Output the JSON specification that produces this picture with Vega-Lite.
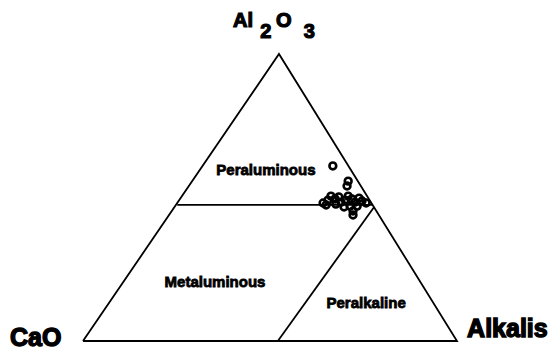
{
  "$schema": "https://vega.github.io/schema/vega-lite/v6.json",
  "width": 552,
  "height": 354,
  "padding": 0,
  "autosize": "none",
  "background": "white",
  "config": {"view": {"stroke": null}},
  "datasets": {
    "boundaries": [
      {"seg": "outline", "ord": 0, "x": 0, "y": 0},
      {"seg": "outline", "ord": 1, "x": 0.524, "y": 1},
      {"seg": "outline", "ord": 2, "x": 1, "y": 0},
      {"seg": "outline", "ord": 3, "x": 0, "y": 0},
      {"seg": "aluminous", "ord": 0, "x": 0.252, "y": 0.474},
      {"seg": "aluminous", "ord": 1, "x": 0.774, "y": 0.474},
      {"seg": "alkaline", "ord": 0, "x": 0.521, "y": 0},
      {"seg": "alkaline", "ord": 1, "x": 0.778, "y": 0.466}
    ],
    "samples": [
      {"x": 0.668, "y": 0.610},
      {"x": 0.709, "y": 0.557},
      {"x": 0.706, "y": 0.540},
      {"x": 0.642, "y": 0.481},
      {"x": 0.655, "y": 0.491},
      {"x": 0.663, "y": 0.505},
      {"x": 0.674, "y": 0.495},
      {"x": 0.684, "y": 0.502},
      {"x": 0.676, "y": 0.477},
      {"x": 0.690, "y": 0.484},
      {"x": 0.701, "y": 0.491},
      {"x": 0.709, "y": 0.505},
      {"x": 0.719, "y": 0.495},
      {"x": 0.727, "y": 0.484},
      {"x": 0.738, "y": 0.498},
      {"x": 0.746, "y": 0.488},
      {"x": 0.733, "y": 0.470},
      {"x": 0.714, "y": 0.470},
      {"x": 0.698, "y": 0.467},
      {"x": 0.722, "y": 0.453},
      {"x": 0.722, "y": 0.439},
      {"x": 0.650, "y": 0.474},
      {"x": 0.757, "y": 0.481}
    ],
    "apexLabel": [
      {"t": "Al", "x": 0.428, "y": 1.094},
      {"t": "2", "x": 0.489, "y": 1.056},
      {"t": "O", "x": 0.537, "y": 1.094},
      {"t": "3", "x": 0.605, "y": 1.056}
    ],
    "baseLabels": [
      {"t": "CaO", "x": -0.195, "y": -0.017},
      {"t": "Alkalis", "x": 1.027, "y": 0.014}
    ],
    "fields": [
      {"t": "Peraluminous", "x": 0.489, "y": 0.578},
      {"t": "Metaluminous", "x": 0.353, "y": 0.188},
      {"t": "Peralkaline", "x": 0.757, "y": 0.115}
    ]
  },
  "encoding": {
    "x": {"field": "x", "type": "quantitative", "axis": null,
          "scale": {"domain": [-0.2219, 1.254], "nice": false, "zero": false}},
    "y": {"field": "y", "type": "quantitative", "axis": null,
          "scale": {"domain": [-0.0453, 1.1882], "nice": false, "zero": false}}
  },
  "layer": [
    {
      "data": {"name": "boundaries"},
      "mark": {"type": "line", "color": "black", "strokeWidth": 1.8, "strokeJoin": "miter"},
      "encoding": {
        "detail": {"field": "seg", "type": "nominal"},
        "order": {"field": "ord", "type": "quantitative"}
      }
    },
    {
      "data": {"name": "samples"},
      "mark": {"type": "point", "shape": "circle", "filled": false, "stroke": "black", "strokeWidth": 2.6, "size": 46, "opacity": 1}
    },
    {
      "data": {"name": "apexLabel"},
      "mark": {"type": "text", "font": "Liberation Sans", "fontWeight": 700, "fontSize": 20, "align": "center", "baseline": "alphabetic", "color": "black", "stroke": "black", "strokeWidth": 1.2},
      "encoding": {"text": {"field": "t", "type": "nominal"}}
    },
    {
      "data": {"name": "baseLabels"},
      "mark": {"type": "text", "font": "Liberation Sans", "fontWeight": 700, "fontSize": 25, "align": "left", "baseline": "alphabetic", "color": "black", "stroke": "black", "strokeWidth": 1.4},
      "encoding": {"text": {"field": "t", "type": "nominal"}}
    },
    {
      "data": {"name": "fields"},
      "mark": {"type": "text", "font": "Liberation Sans", "fontWeight": 700, "fontSize": 15, "align": "center", "baseline": "alphabetic", "color": "black", "stroke": "black", "strokeWidth": 0.8},
      "encoding": {"text": {"field": "t", "type": "nominal"}}
    }
  ]
}
